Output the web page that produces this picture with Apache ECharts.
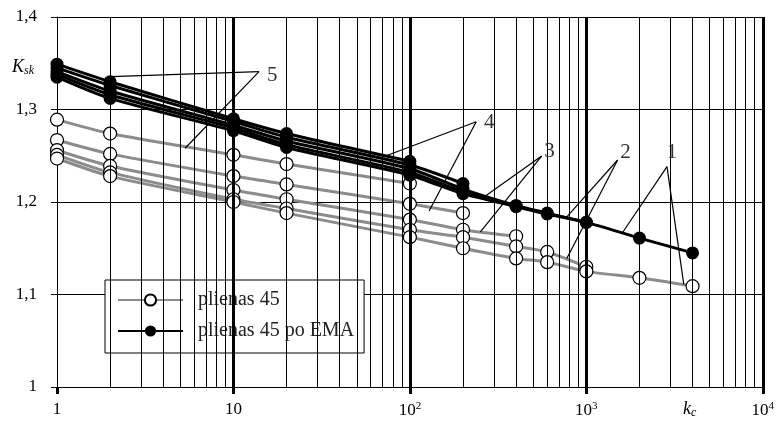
<!DOCTYPE html>
<html>
<head>
<meta charset="utf-8">
<script src="https://cdn.jsdelivr.net/npm/echarts@6/dist/echarts.min.js"></script>
<style>
  html, body { margin: 0; padding: 0; background: #fff; }
  #charts { width: 777px; height: 437px; }
</style>
</head>
<body>
<div id="charts"></div>
<script>
// kc values (x)
const kc = [1, 2, 10, 20, 100, 200, 400, 600, 1000, 2000, 4000];

// plienas 45 (gray, open circles), curves 1..5
const plienas1 = [1.247, 1.228, 1.200, 1.188, 1.162, 1.150, 1.139, 1.135, 1.125, 1.118, 1.109];
const plienas2 = [1.251, 1.232, 1.203, 1.193, 1.170, 1.162, 1.152, 1.146, 1.130];
const plienas3 = [1.256, 1.239, 1.213, 1.203, 1.181, 1.170, 1.163];
const plienas4 = [1.267, 1.252, 1.228, 1.219, 1.198, 1.188];
const plienas5 = [1.289, 1.274, 1.251, 1.241, 1.220];

// plienas 45 po EMA (black, filled circles), curves 1..5
const ema1 = [1.335, 1.312, 1.277, 1.259, 1.229, 1.209, 1.195, 1.187, 1.178, 1.161, 1.145];
const ema2 = [1.338, 1.316, 1.280, 1.262, 1.232, 1.211, 1.196, 1.188, 1.178];
const ema3 = [1.341, 1.320, 1.283, 1.266, 1.236, 1.214, 1.196];
const ema4 = [1.345, 1.326, 1.287, 1.270, 1.240, 1.220];
const ema5 = [1.349, 1.330, 1.290, 1.274, 1.244];

// grid lines
const minorX = [2, 3, 4, 5, 6, 7, 8, 9, 20, 30, 40, 50, 60, 70, 80, 90,
  200, 300, 400, 500, 600, 700, 800, 900, 2000, 3000, 4000, 5000, 6000, 7000, 8000, 9000];
const decadeX = [10, 100, 1000, 10000];

// annotation numbers and leader lines (data coords)
const noteLabels = [['5', 16.6, 1.3373], ['4', 282, 1.2865], ['3', 619, 1.2551], ['2', 1669, 1.253], ['1', 3057, 1.254]];
const leaderLines = [
  [[13.97, 1.3409], [2.02, 1.3355]],
  [[13.97, 1.3409], [5.32, 1.2581]],
  [[237.7, 1.2868], [72.9, 1.2497]],
  [[237.7, 1.2868], [128.5, 1.1903]],
  [[558, 1.2497], [268, 1.2065]],
  [[558, 1.2497], [251, 1.1676]],
  [[1505, 1.2454], [775, 1.184]],
  [[1505, 1.2454], [775, 1.139]],
  [[2866, 1.2382], [1606, 1.167]],
  [[2866, 1.2382], [3567, 1.111]]
];

const serif = '"Liberation Serif", "DejaVu Serif", serif';
const grayColor = '#8c8c8c';

function pairs(vals) {
  return vals.map((v, i) => [kc[i], v]);
}

let myChart = echarts.init(document.getElementById('charts'));

let series = [];

// vertical grid lines
series.push({
  name: 'grid',
  type: 'line',
  data: [],
  z: 1,
  silent: true,
  markLine: {
    silent: true,
    symbol: ['none', 'none'],
    label: { show: false },
    animation: false,
    data: minorX.map(v => ({ xAxis: v, lineStyle: { color: '#000', width: 1, type: 'solid' } }))
      .concat(decadeX.map(v => ({ xAxis: v, lineStyle: { color: '#000', width: 3, type: 'solid' } })))
  }
});

[plienas5, plienas4, plienas3, plienas2, plienas1].forEach(c => {
  series.push({
    name: 'plienas 45',
    type: 'line',
    data: pairs(c),
    smooth: 0.25,
    symbol: 'circle',
    symbolSize: 13,
    z: 3,
    lineStyle: { color: grayColor, width: 3 },
    itemStyle: { color: '#fff', borderColor: '#000', borderWidth: 1.2 }
  });
});

[ema5, ema4, ema3, ema2, ema1].forEach(c => {
  series.push({
    name: 'plienas 45 po EMA',
    type: 'line',
    data: pairs(c),
    smooth: 0.25,
    symbol: 'circle',
    symbolSize: 13,
    z: 4,
    lineStyle: { color: '#000', width: 3 },
    itemStyle: { color: '#000', borderColor: '#000', borderWidth: 0 }
  });
});

// leaders and numbers
series.push({
  name: 'notes',
  type: 'line',
  data: [],
  z: 5,
  silent: true,
  markLine: {
    silent: true,
    symbol: ['none', 'none'],
    label: { show: false },
    lineStyle: { color: '#000', width: 1.2, type: 'solid' },
    data: leaderLines.map(l => [{ coord: l[0] }, { coord: l[1] }])
  },
  markPoint: {
    silent: true,
    symbol: 'circle',
    symbolSize: 1,
    itemStyle: { color: 'rgba(0,0,0,0)' },
    label: {
      show: true,
      position: 'inside',
      formatter: '{b}',
      fontFamily: serif,
      fontSize: 21,
      color: '#333'
    },
    data: noteLabels.map(n => ({ name: n[0], coord: [n[1], n[2]] }))
  }
});

let option = {
  animation: false,
  backgroundColor: '#fff',
  grid: { left: 57, right: 5, top: 17, bottom: 50 },
  xAxis: {
    type: 'log',
    logBase: 10,
    min: 1,
    max: 10000,
    axisLine: { show: true, lineStyle: { color: '#000', width: 1 } },
    axisTick: { show: true, length: 7, lineStyle: { color: '#000', width: 3 } },
    splitLine: { show: false },
    minorTick: { show: false },
    axisLabel: {
      margin: 14,
      color: '#000',
      fontFamily: serif,
      fontSize: 17,
      formatter: function (v) {
        if (v === 1) return '1';
        if (v === 10) return '10';
        return '10{sup|' + Math.round(Math.log10(v)) + '}';
      },
      rich: {
        sup: { fontFamily: serif, fontSize: 11, color: '#000', padding: [0, 0, 9, 0] }
      }
    }
  },
  yAxis: {
    type: 'value',
    min: 1,
    max: 1.4,
    interval: 0.1,
    axisLine: { show: true, lineStyle: { color: '#000', width: 1 } },
    axisTick: { show: true, length: 6, lineStyle: { color: '#000', width: 1 } },
    splitLine: { show: true, lineStyle: { color: '#000', width: 1 } },
    axisLabel: {
      margin: 20,
      color: '#000',
      fontFamily: serif,
      fontSize: 17,
      formatter: function (v) {
        if (Math.abs(v - 1) < 1e-9) return '1';
        return v.toFixed(1).replace('.', ',');
      }
    }
  },
  legend: {
    data: ['plienas 45', 'plienas 45 po EMA'],
    orient: 'vertical',
    left: 105,
    top: 280,
    itemWidth: 65,
    itemHeight: 14,
    itemGap: 11,
    padding: [10, 10, 12, 12],
    borderColor: '#000',
    borderWidth: 1,
    backgroundColor: '#fff',
    textStyle: { fontFamily: serif, fontSize: 20, color: '#222', padding: [0, 0, 0, 10] }
  },
  graphic: [
    {
      type: 'text',
      left: 12,
      top: 58,
      style: {
        text: '{k|K}{s|sk}',
        rich: {
          k: { fontFamily: serif, fontSize: 18, fontStyle: 'italic', fill: '#000' },
          s: { fontFamily: serif, fontSize: 12, fontStyle: 'italic', fill: '#000', padding: [7, 0, 0, 0] }
        }
      }
    },
    {
      type: 'text',
      left: 683,
      top: 400,
      style: {
        text: '{k|k}{s|c}',
        rich: {
          k: { fontFamily: serif, fontSize: 18, fontStyle: 'italic', fill: '#000' },
          s: { fontFamily: serif, fontSize: 12, fontStyle: 'italic', fill: '#000', padding: [7, 0, 0, 0] }
        }
      }
    }
  ],
  series: series
};

myChart.setOption(option);
</script>
</body>
</html>
